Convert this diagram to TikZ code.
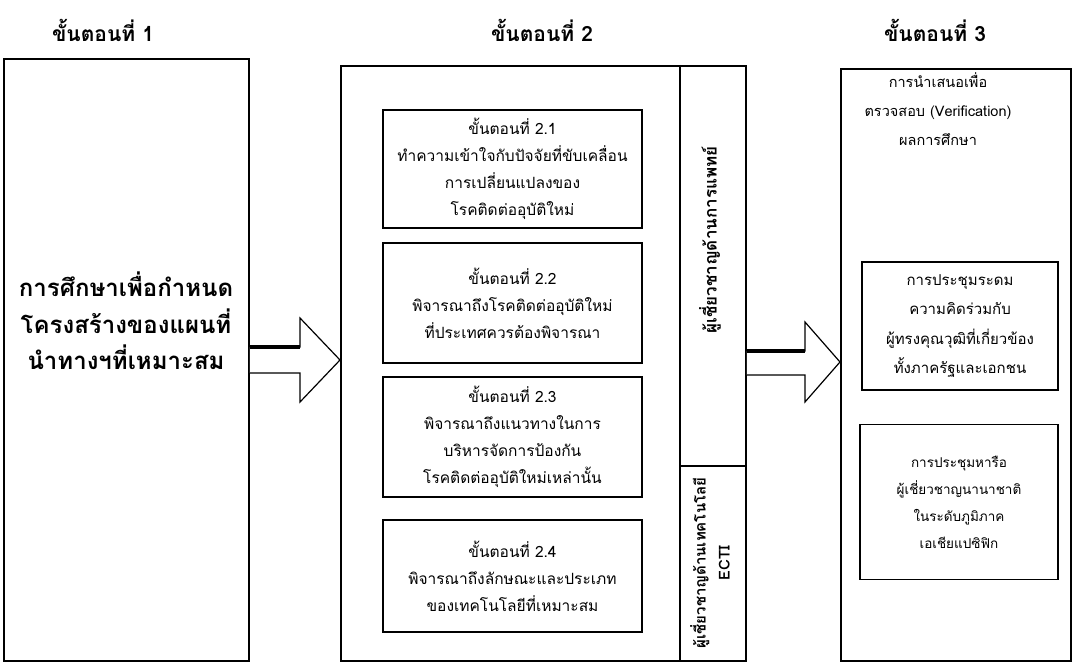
\documentclass[tikz,border=0pt]{standalone}
\usepackage{fontspec}
\setmainfont[Script=Thai]{Loma}
\begin{document}
\begin{tikzpicture}[x=1pt,y=-1pt,
  frame/.style={draw,line width=1.8pt,inner sep=0pt},
  sub/.style={draw,line width=1.5pt,inner sep=0pt,minimum width=259pt,align=center,font=\fontsize{15.5}{27}\selectfont},
  txt/.style={align=center,inner sep=0pt},
  title/.style={font=\fontsize{21}{24}\selectfont\bfseries,inner sep=0pt},
  blockarrow/.style={draw,line width=1.2pt,fill=white},
  heavy/.style={line width=4.5pt}]
\useasboundingbox (0,0) rectangle (1073,666);
% titles
\node[title] (t1) at (103,30) {ขั้นตอนที่ 1};
\node[title] (t2) at (542,30) {ขั้นตอนที่ 2};
\node[title] (t3) at (935,30) {ขั้นตอนที่ 3};
% stage 1
\node[frame,anchor=north west,minimum width=245pt,minimum height=602pt] (s1) at (3,58) {};
\node[txt,font=\fontsize{24}{36.5}\selectfont\bfseries] (s1t) at (126,321)
  {การศึกษาเพื่อกำหนด\\โครงสร้างของแผนที่\\นำทางฯที่เหมาะสม};
% stage 2
\node[frame,anchor=north west,minimum width=405pt,minimum height=595pt] (s2) at (340,65) {};
\coordinate (dvt) at (680,65);
\coordinate (dvb) at (680,660);
\draw[line width=1.5pt] (dvt) -- (dvb);
\coordinate (hdl) at (680,466);
\coordinate (hdr) at (745,466);
\draw[line width=1.5pt] (hdl) -- (hdr);
\node[txt,rotate=90,font=\fontsize{17}{18}\selectfont\bfseries] (med) at (710,240) {ผู้เชี่ยวชาญด้านการแพทย์};
\node[txt,rotate=90,font=\fontsize{15}{24}\selectfont\bfseries] (tech) at (710,563) {ผู้เชี่ยวชาญด้านเทคโนโลยี\\ECTI};
\node[sub,minimum height=118pt] (b21) at (512.5,169)
  {ขั้นตอนที่ 2.1\\ทำความเข้าใจกับปัจจัยที่ขับเคลื่อน\\การเปลี่ยนแปลงของ\\โรคติดต่ออุบัติใหม่};
\node[sub,minimum height=120pt] (b22) at (512.5,303)
  {ขั้นตอนที่ 2.2\\พิจารณาถึงโรคติดต่ออุบัติใหม่\\ที่ประเทศควรต้องพิจารณา};
\node[sub,minimum height=120pt] (b23) at (512.5,437)
  {ขั้นตอนที่ 2.3\\พิจารณาถึงแนวทางในการ\\บริหารจัดการป้องกัน\\โรคติดต่ออุบัติใหม่เหล่านั้น};
\node[sub,minimum height=112pt] (b24) at (512.5,576)
  {ขั้นตอนที่ 2.4\\พิจารณาถึงลักษณะและประเภท\\ของเทคโนโลยีที่เหมาะสม};
% stage 3
\node[frame,anchor=north west,minimum width=230pt,minimum height=592pt] (s3) at (840,68) {};
\node[txt,font=\fontsize{14.5}{29}\selectfont] (s3t) at (938,109)
  {การนำเสนอเพื่อ\\ตรวจสอบ (Verification)\\ผลการศึกษา};
\node[sub,minimum width=196pt,minimum height=128pt,font=\fontsize{15}{29.5}\selectfont] (b3a) at (960,326)
  {การประชุมระดม\\ความคิดร่วมกับ\\ผู้ทรงคุณวุฒิที่เกี่ยวข้อง\\ทั้งภาครัฐและเอกชน};
\node[sub,minimum width=198pt,minimum height=155pt,font=\fontsize{13.5}{27}\selectfont] (b3b) at (959,502)
  {การประชุมหารือ\\ผู้เชี่ยวชาญนานาชาติ\\ในระดับภูมิภาค\\เอเชียแปซิฟิก};
% block arrows
\coordinate (a1a) at (s1.east |- 0,347);
\coordinate (a1b) at (300,347);
\coordinate (a1c) at (300,318);
\coordinate (a1d) at (s2.west |- 0,360);
\coordinate (a1e) at (300,402);
\coordinate (a1f) at (300,373);
\coordinate (a1g) at (s1.east |- 0,373);
\draw[blockarrow] (a1a) -- (a1b) -- (a1c) -- (a1d) -- (a1e) -- (a1f) -- (a1g);
\draw[heavy] (a1a) -- (a1b);
\coordinate (a2a) at (s2.east |- 0,351);
\coordinate (a2b) at (805,351);
\coordinate (a2c) at (805,322);
\coordinate (a2d) at (s3.west |- 0,362);
\coordinate (a2e) at (805,402);
\coordinate (a2f) at (805,375);
\coordinate (a2g) at (s2.east |- 0,375);
\draw[blockarrow] (a2a) -- (a2b) -- (a2c) -- (a2d) -- (a2e) -- (a2f) -- (a2g);
\draw[heavy] (a2a) -- (a2b);
\end{tikzpicture}
\end{document}
